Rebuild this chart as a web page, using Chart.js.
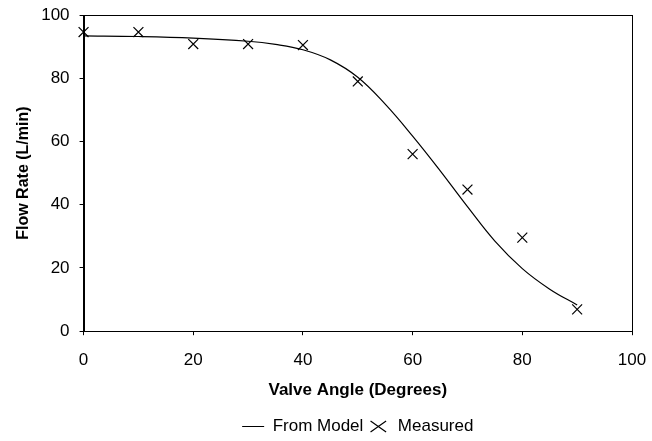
<!DOCTYPE html>
<html>
<head>
<meta charset="utf-8">
<script src="https://cdn.jsdelivr.net/npm/chart.js@4/dist/chart.umd.min.js"></script>
<style>
html,body{margin:0;padding:0;background:#fff;}
#wrap{width:652px;height:441px;position:relative;}
</style>
</head>
<body>
<div id="wrap"><canvas id="c" width="652" height="441"></canvas></div>
<script>
const modelAngles = [0, 10, 20, 30, 35, 40, 45, 50, 55, 60, 65, 70, 75, 80, 85, 90];
const modelFlow   = [93.4, 93.2, 92.7, 91.7, 90.7, 89.0, 85.8, 80.3, 71.8, 61.7, 50.8, 39.4, 28.5, 19.8, 13.3, 8.3];
const measuredAngles = [0, 10, 20, 30, 40, 50, 60, 70, 80, 90];
const measuredFlow   = [94.6, 94.6, 90.8, 90.8, 90.5, 79.0, 56.0, 44.8, 29.6, 6.9];
const xTicks = [0, 20, 40, 60, 80, 100];
const yTicks = [0, 20, 40, 60, 80, 100];

const FONT = "'Liberation Sans', Arial, sans-serif";

const boxPlugin = {
  id: 'box',
  afterDatasetsDraw(chart) {
    const a = chart.chartArea, ctx = chart.ctx;
    ctx.save();
    ctx.strokeStyle = '#000';
    ctx.lineWidth = 1;
    ctx.strokeRect(Math.round(a.left) + 0.5, Math.round(a.top) + 0.5,
                   Math.round(a.right - a.left), Math.round(a.bottom - a.top));
    ctx.restore();
  }
};

new Chart(document.getElementById('c'), {
  type: 'scatter',
  data: {
    datasets: [
      {
        label: 'From Model',
        data: modelAngles.map((x, i) => ({x: x, y: modelFlow[i]})),
        showLine: true,
        tension: 0.4,
        borderColor: '#000',
        borderWidth: 1.2,
        pointRadius: 0,
        pointStyle: 'line',
        fill: false
      },
      {
        label: 'Measured',
        data: measuredAngles.map((x, i) => ({x: x, y: measuredFlow[i]})),
        showLine: false,
        clip: false,
        borderColor: '#000',
        backgroundColor: '#000',
        borderWidth: 1.2,
        pointStyle: 'crossRot',
        pointRadius: 7
      }
    ]
  },
  options: {
    responsive: false,
    animation: false,
    layout: { autoPadding: false, padding: { left: 14, right: 20, top: 15, bottom: -4 } },
    plugins: {
      legend: {
        position: 'bottom',
        fullSize: false,
        labels: {
          usePointStyle: true,
          pointStyleWidth: 22,
          boxHeight: 11,
          color: '#000',
          font: { family: FONT, size: 17 },
          padding: 4
        }
      },
      tooltip: { enabled: false }
    },
    scales: {
      x: {
        type: 'linear',
        min: 0, max: 100,
        afterBuildTicks: (s) => { s.ticks = xTicks.map(v => ({value: v})); },
        afterFit: (s) => { s.paddingLeft = 0; s.paddingRight = 0; },
        grid: { display: true, drawOnChartArea: false, drawTicks: true, tickLength: 4, color: '#000' },
        border: { display: true, color: '#000' },
        ticks: { color: '#000', font: { family: FONT, size: 17 }, padding: 15, maxRotation: 0 },
        title: { display: true, text: 'Valve Angle (Degrees)', color: '#000',
                 font: { family: FONT, size: 17, weight: 'bold' }, padding: { top: -5, bottom: 13 } }
      },
      y: {
        type: 'linear',
        min: 0, max: 100,
        afterBuildTicks: (s) => { s.ticks = yTicks.map(v => ({value: v})); },
        afterFit: (s) => { s.paddingTop = 0; s.paddingBottom = 0; },
        grid: { display: true, drawOnChartArea: false, drawTicks: true, tickLength: 4, color: '#000' },
        border: { display: true, color: '#000' },
        ticks: { color: '#000', font: { family: FONT, size: 17 }, padding: 10 },
        title: { display: true, text: 'Flow Rate (L/min)', color: '#000',
                 font: { family: FONT, size: 16, weight: 'bold' }, padding: { top: 0, bottom: -2 } }
      }
    }
  },
  plugins: [boxPlugin]
});
</script>
</body>
</html>
